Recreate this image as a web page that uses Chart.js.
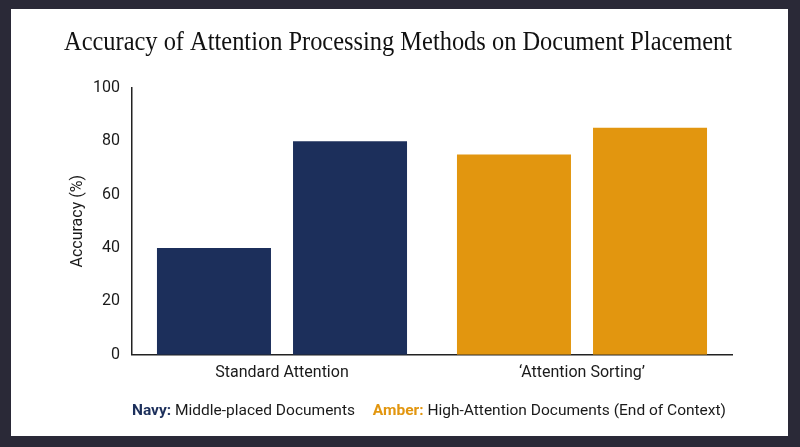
<!DOCTYPE html>
<html>
<head>
<meta charset="utf-8">
<script src="https://cdn.jsdelivr.net/npm/chart.js@4/dist/chart.umd.min.js"></script>
<style>
html,body{margin:0;padding:0;background:#2a2937;width:800px;height:447px;overflow:hidden}
#card{position:absolute;left:11px;top:9px;width:777px;height:427px;background:#fff}
#wrap{position:absolute;left:0;top:0;width:777px;height:396px}
#legend{position:absolute;left:114px;width:600px;top:392px;text-align:center;font-family:Roboto,sans-serif;font-size:15.5px;color:#1a1a1a;white-space:nowrap}
#legend b{font-weight:700}
#legend span.item{margin:0 7px}
</style>
</head>
<body>
<div id="card">
<div id="wrap"><canvas id="grafico"></canvas></div>
<div id="legend">
<span class="item"><b style="color:#1c2f5b">Navy:</b> Middle-placed Documents</span>
<span class="item"><b style="color:#e2960f">Amber:</b> High-Attention Documents (End of Context)</span>
</div>
</div>
<script>
// dados
const categorias=["Standard Attention","\u2018Attention Sorting\u2019"]
const primeiraBarra=[40,75]
const segundaBarra=[80,85]
const coresCategoria=["#1c2f5b","#e2960f"]
const ticksY=[0,20,40,60,80,100]

const corTexto="#1a1a1a"

new Chart(document.getElementById("grafico"),{
type:"bar",
data:{
labels:categorias,
datasets:[
{label:"barra 1",data:primeiraBarra,backgroundColor:coresCategoria,categoryPercentage:0.907,barPercentage:0.838},
{label:"barra 2",data:segundaBarra,backgroundColor:coresCategoria,categoryPercentage:0.907,barPercentage:0.838}
]
},
options:{
responsive:true,
maintainAspectRatio:false,
animation:false,
layout:{padding:{left:53,right:56,top:0,bottom:13}},
plugins:{
legend:{display:false},
tooltip:{enabled:false},
title:{
display:true,
text:"Accuracy of Attention Processing Methods on Document Placement",
color:"#111",
font:{family:"'Liberation Serif', serif",size:26.5,weight:"normal"},
padding:{top:18,bottom:29}
}
},
scales:{
x:{
grid:{display:false,drawTicks:false},
border:{display:true,color:"#222",width:1.5},
ticks:{color:corTexto,font:{family:"Roboto",size:16},padding:9}
},
y:{
min:0,max:100,
afterBuildTicks:s=>{s.ticks=ticksY.map(v=>({value:v}))},
afterFit:s=>{s.width=68},
grid:{display:false,drawTicks:false},
border:{display:true,color:"#222",width:1.5},
ticks:{color:corTexto,font:{family:"Roboto",size:16},padding:12},
title:{display:true,text:"Accuracy (%)",color:corTexto,font:{family:"Roboto",size:16}}
}
}
}
})
</script>
</body>
</html>
